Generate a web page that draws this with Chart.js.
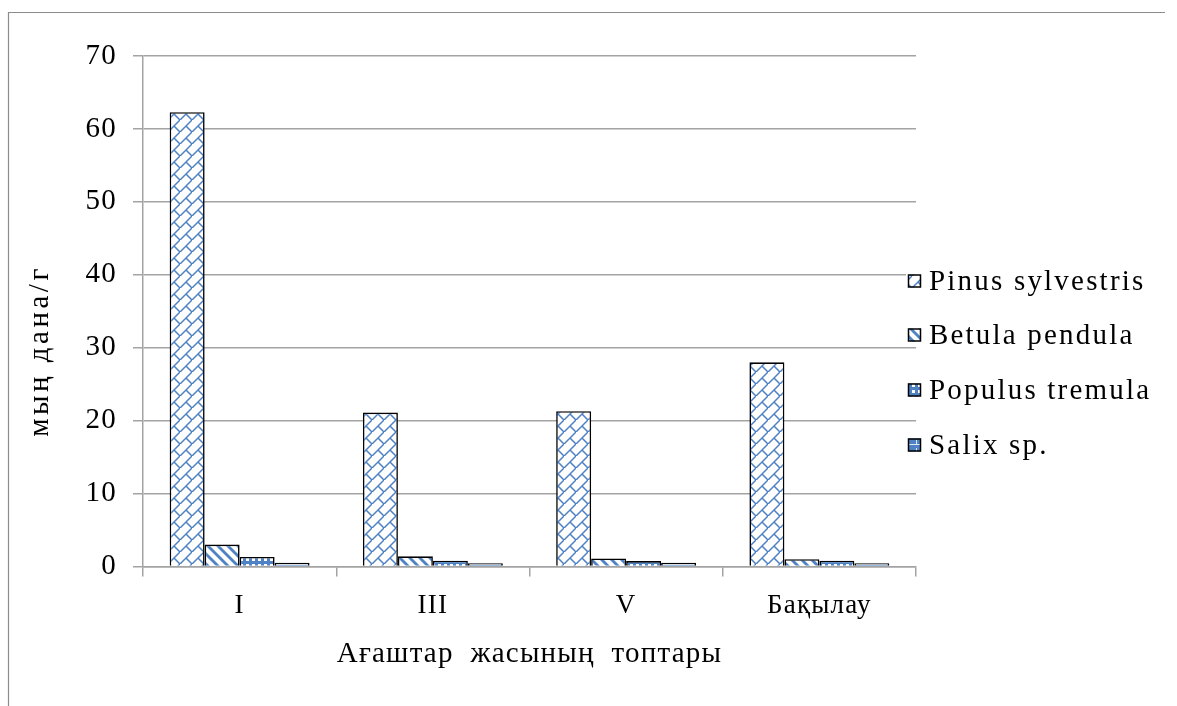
<!DOCTYPE html>
<html>
<head>
<meta charset="utf-8">
<script src="https://cdn.jsdelivr.net/npm/chart.js@4.4.1/dist/chart.umd.min.js"></script>
<style>
  html, body { margin: 0; padding: 0; background: #fff; }
  #wrap { width: 1177px; height: 706px; position: relative; }
</style>
</head>
<body>
<div id="wrap"><canvas id="c" width="1177" height="706"></canvas></div>
<script>
// Age groups of the stands and the pollen counts per species (thousand grains per gram)
const categories = ['I', 'III', 'V', 'Бақылау'];
const seriesNames = ['Pinus sylvestris', 'Betula pendula', 'Populus tremula', 'Salix sp.'];
const pinus = [62.3, 21.1, 21.3, 28.0];
const betula = [3.0, 1.4, 1.1, 1.0];
const populus = [1.3, 0.8, 0.75, 0.8];
const salix = [0.5, 0.45, 0.5, 0.45];
const yTicks = [0, 10, 20, 30, 40, 50, 60, 70];
const yTitle = 'мың дана/г';
const xTitle = 'Ағаштар  жасының  топтары';

const BLUE = '#4f82c4';
const GRID = '#a3a3a3';
const SERIF = '"Liberation Serif", "Times New Roman", serif';
const SPACING = '1.2px';

// Hatch fills for each species
function makeTile(size, draw) {
  const t = document.createElement('canvas');
  t.width = size; t.height = size;
  const g = t.getContext('2d');
  g.fillStyle = '#fff';
  g.fillRect(0, 0, size, size);
  draw(g, size);
  return document.getElementById('c').getContext('2d').createPattern(t, 'repeat');
}
const diagBrick = makeTile(12, (g, s) => {
  g.strokeStyle = BLUE; g.lineWidth = 1.5; g.lineCap = 'square';
  g.beginPath();
  g.moveTo(s, 0); g.lineTo(0, s);
  g.moveTo(s / 2, s / 2); g.lineTo(s, s);
  g.stroke();
});
const wideDown = makeTile(10, (g, s) => {
  g.fillStyle = BLUE;
  for (let k = -1; k <= 1; k++) {
    g.beginPath();
    g.moveTo(k * s, 0); g.lineTo(k * s + 4, 0);
    g.lineTo(k * s + 4 + s, s); g.lineTo(k * s + s, s);
    g.closePath(); g.fill();
  }
});
const checker = makeTile(6, (g, s) => {
  g.fillStyle = BLUE;
  g.fillRect(0, 0, s, s);
  g.fillStyle = '#fff';
  g.fillRect(0, 0, s / 2, s / 2);
});
const hBrick = makeTile(8, (g, s) => {
  g.fillStyle = BLUE;
  g.fillRect(0, 0, s, s);
  g.fillStyle = '#dfe8f5';
  g.fillRect(0, 4, s, 1);
  g.fillRect(4, 0, 1, 4);
});
const fills = [diagBrick, wideDown, checker, hBrick];
const values = [pinus, betula, populus, salix];

// Outer frame of the figure
const framePlugin = {
  id: 'frame',
  beforeDraw(chart) {
    const ctx = chart.ctx;
    ctx.save();
    ctx.strokeStyle = '#8c8c8c';
    ctx.lineWidth = 1.2;
    ctx.beginPath();
    ctx.moveTo(8.5, 706);
    ctx.lineTo(8.5, 12.5);
    ctx.lineTo(1165, 12.5);
    ctx.stroke();
    ctx.restore();
  }
};

// Letter spacing for all chart text
const spacingPlugin = {
  id: 'spacing',
  beforeUpdate(chart) { chart.ctx.letterSpacing = SPACING; },
  beforeLayout(chart) { chart.ctx.letterSpacing = SPACING; },
  beforeDraw(chart) { chart.ctx.letterSpacing = SPACING; }
};

// Vertical value-axis caption
const yCaption = {
  id: 'yCaption',
  afterDraw(chart) {
    const ctx = chart.ctx;
    ctx.save();
    ctx.letterSpacing = '3.5px';
    ctx.font = '29px ' + SERIF;
    ctx.fillStyle = '#000';
    ctx.textAlign = 'center';
    ctx.textBaseline = 'middle';
    ctx.translate(40, 351);
    ctx.rotate(-Math.PI / 2);
    ctx.fillText(yTitle, 0, 0);
    ctx.restore();
  }
};

// Legend on the right, overlapping the end of the grid lines
const sideLegend = {
  id: 'sideLegend',
  afterDraw(chart) {
    const ctx = chart.ctx;
    const x0 = 908, box = 13, rows = [281, 335, 390, 445];
    ctx.save();
    ctx.letterSpacing = '2.2px';
    ctx.font = '29px ' + SERIF;
    ctx.textBaseline = 'middle';
    ctx.textAlign = 'left';
    chart.data.datasets.forEach((ds, i) => {
      const y = rows[i];
      ctx.fillStyle = '#fff';
      ctx.fillRect(x0 - 2, y - box / 2 - 2, box + 6, box + 4);
      ctx.fillStyle = ds.backgroundColor;
      ctx.fillRect(x0, y - box / 2, box, box);
      ctx.strokeStyle = '#000';
      ctx.lineWidth = 1.5;
      ctx.strokeRect(x0 + 0.5, y - box / 2 + 0.5, box - 1, box - 1);
      ctx.fillStyle = '#000';
      ctx.fillText(ds.label, x0 + box + 8, y + 1);
    });
    ctx.restore();
  }
};

new Chart(document.getElementById('c'), {
  type: 'bar',
  data: {
    labels: categories,
    datasets: seriesNames.map((name, i) => ({
      label: name,
      data: values[i],
      backgroundColor: fills[i],
      borderColor: '#000',
      borderWidth: 1.6,
      borderSkipped: 'bottom',
      categoryPercentage: 0.724,
      barPercentage: 1.0
    }))
  },
  options: {
    responsive: false,
    animation: false,
    devicePixelRatio: 1,
    layout: { padding: { left: 30, right: 261, top: 56, bottom: 34 } },
    plugins: {
      legend: { display: false },
      tooltip: { enabled: false }
    },
    scales: {
      x: {
        offset: true,
        grid: {
          offset: true,
          drawOnChartArea: false,
          drawTicks: true,
          tickLength: 10,
          color: GRID,
          lineWidth: 1.5
        },
        border: { display: true, color: GRID, width: 1.5 },
        ticks: {
          color: '#000',
          font: { family: SERIF, size: 27 },
          padding: 13,
          maxRotation: 0
        },
        title: {
          display: true,
          text: xTitle,
          color: '#000',
          font: { family: SERIF, size: 29 },
          padding: 0
        },
        afterFit(scale) { scale.height = 706 - 34 - 566.5; }
      },
      y: {
        min: 0,
        max: 70,
        afterBuildTicks(scale) { scale.ticks = yTicks.map(v => ({ value: v })); },
        grid: {
          color: GRID,
          lineWidth: 1.5,
          drawTicks: true,
          tickLength: 10
        },
        border: { display: true, color: GRID, width: 1.5 },
        ticks: {
          color: '#000',
          font: { family: SERIF, size: 29 },
          padding: 16
        },
        title: { display: false },
        afterFit(scale) { scale.width = 143 - 30; }
      }
    }
  },
  plugins: [spacingPlugin, framePlugin, yCaption, sideLegend]
});
</script>
</body>
</html>
